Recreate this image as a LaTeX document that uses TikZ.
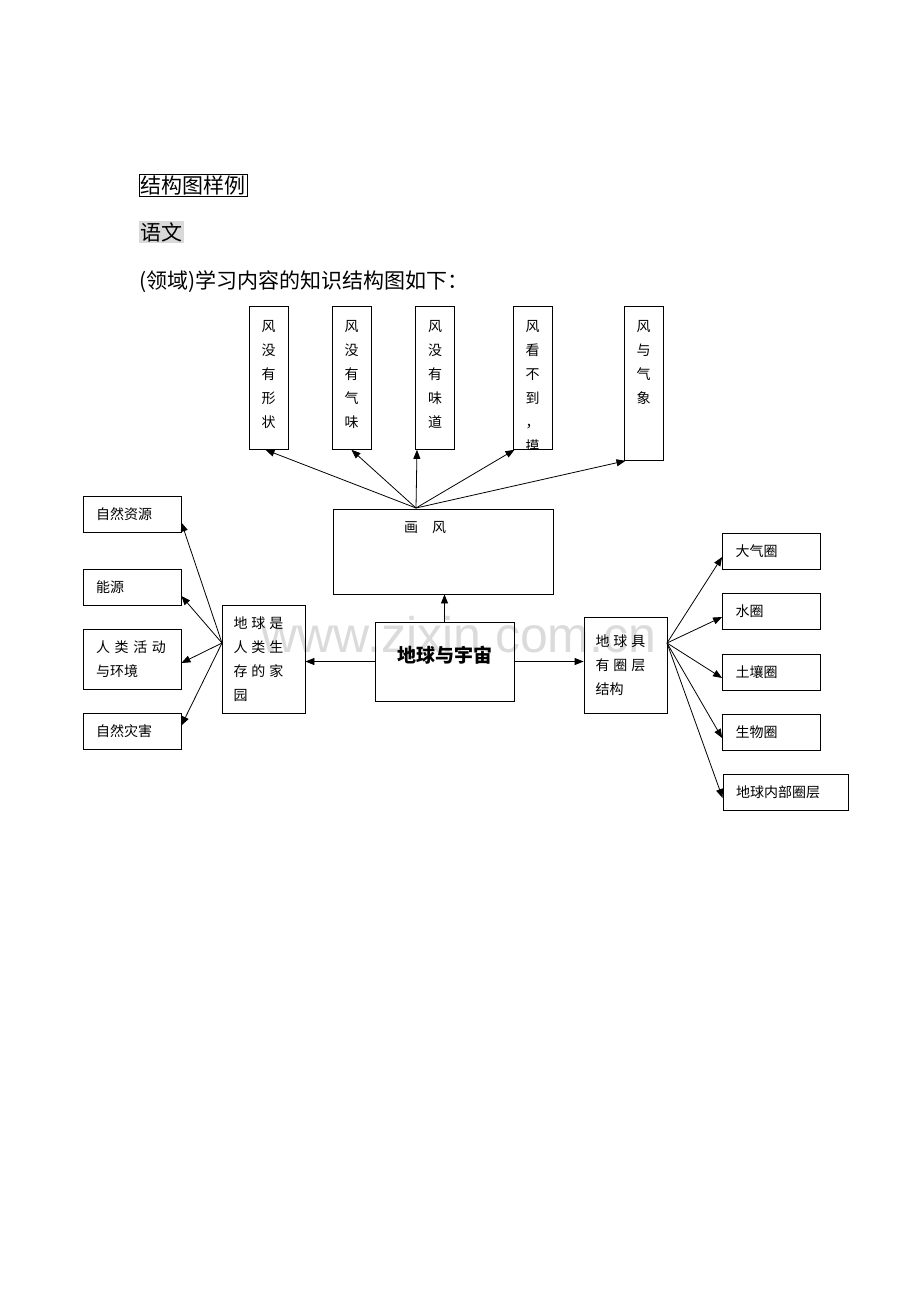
\documentclass[tikz,border=0pt]{standalone}
\usepackage{fontspec}
\setmainfont{Liberation Serif}
\setsansfont{Liberation Sans}
\newfontfamily\cjk{Noto Sans CJK SC}
\usetikzlibrary{arrows.meta,calc}
\tikzset{
    block/.style = {draw, rectangle, inner sep=0pt, font=\cjk\fontsize{14}{24}\selectfont},
    leaf/.style = {block, minimum height=36pt, minimum width=98pt, align=left, text width=72pt},
    vbox/.style = {block, minimum width=39pt, anchor=north},
    vtext/.style = {inner sep=0pt, font=\cjk\fontsize{14}{24}\selectfont, align=center, anchor=north},
    arrow/.style={draw, -{Triangle[length=9pt,width=7pt]}, line width=0.8pt}
}
\begin{document}
\begin{tikzpicture}[x=1pt,y=-1pt,line width=0.8pt]
    \useasboundingbox (0,0) rectangle (920,1302);
    % header
    \node [draw,line width=0.5pt,inner sep=1.5pt,anchor=west,font=\cjk\fontsize{21}{21}\selectfont] (title) at (139,185) {结构图样例};
    \node [fill=black!15,inner sep=1.5pt,anchor=west,font=\cjk\fontsize{21}{21}\selectfont] (subj) at (139,232) {语文};
    \node [inner sep=0pt,anchor=west,font=\cjk\fontsize{21}{21}\selectfont] (intro) at (139,282) {(领域)学习内容的知识结构图如下：};
    % watermark
    \node [text=black!14,font=\sffamily\fontsize{50}{50}\selectfont] (wm) at (459,635) {www.zixin.com.cn};
    % top boxes
    \node [vbox,minimum height=143pt] (w1) at (268.5,306) {};
    \node [vbox,minimum height=143pt] (w2) at (351.5,306) {};
    \node [vbox,minimum height=143pt] (w3) at (435,306) {};
    \node [vbox,minimum height=143pt] (w4) at (532.5,306) {};
    \node [vbox,minimum height=154pt] (w5) at (643.5,306) {};
    \node [vtext] (w1t) at ($(w1.north)+(0,14)$) {风\\没\\有\\形\\状};
    \node [vtext] (w2t) at ($(w2.north)+(0,14)$) {风\\没\\有\\气\\味};
    \node [vtext] (w3t) at ($(w3.north)+(0,14)$) {风\\没\\有\\味\\道};
    \node [vtext] (w5t) at ($(w5.north)+(0,14)$) {风\\与\\气\\象};
    \begin{scope}
        \clip ($(w4.north west)+(0.5,0.5)$) rectangle ($(w4.south east)+(-0.5,-1)$);
        \node [vtext] (w4t) at ($(w4.north)+(0,14)$) {风\\看\\不\\到\\，\\摸};
    \end{scope}
    % middle
    \node [block,minimum width=220pt,minimum height=85pt] (draw) at (443,551.5) {};
    \node [font=\cjk\fontsize{14}{14}\selectfont] (drawt) at (425,528) {画\quad 风};
    \coordinate (hub) at (416,508);
    \foreach \b/\x in {w1/-3, w2/0, w3/-18, w4/-18, w5/-18}
        \draw [arrow] (hub) -- ($(\b.south)+(\x,0)$);
    \node [block,minimum width=139pt,minimum height=79pt,font=\cjk\bfseries\fontsize{19}{19}\selectfont] (earth) at (444.5,661.5) {\raisebox{14pt}{地球与宇宙}};
    \draw [arrow] (earth.north) -- (draw.south -| earth.north);
    % left branch
    \node [block,minimum width=83pt,minimum height=108pt,align=left,text width=60pt] (home) at (263.5,659) {地\hspace{4pt}球\hspace{4pt}是\\人\hspace{4pt}类\hspace{4pt}生\\存\hspace{4pt}的\hspace{4pt}家\\园};
    \draw [arrow] (earth.west) -- (home.east |- earth.west);
    \node [leaf] (res) at (132,514.5) {自然资源};
    \node [leaf] (energy) at (132,587) {能源};
    \node [leaf,minimum height=60pt] (act) at (132,659) {人\ 类\ 活\ 动\\与环境};
    \node [leaf] (dis) at (132,731.5) {自然灾害};
    \coordinate (lhub) at (222,643);
    \foreach \b/\y in {res/8, energy/9, act/4, dis/-6}
        \draw [arrow] (lhub) -- ($(\b.east)+(0,\y)$);
    % right branch
    \node [block,minimum width=83pt,minimum height=96pt,align=left,text width=60pt] (layer) at (625.5,665) {地\hspace{4pt}球\hspace{4pt}具\\有\hspace{4pt}圈\hspace{4pt}层\\结构};
    \draw [arrow] (earth.east) -- (layer.west |- earth.east);
    \node [leaf] (air) at (771.5,551) {大气圈};
    \node [leaf] (water) at (771.5,611) {水圈};
    \node [leaf] (soil) at (771.5,672) {土壤圈};
    \node [leaf] (bio) at (771.5,732) {生物圈};
    \node [leaf,minimum width=125pt,text width=99pt] (inner) at (785.5,792) {地球内部圈层};
    \coordinate (rhub) at (667,643);
    \foreach \b in {air, water, soil, bio, inner}
        \draw [arrow] (rhub) -- ($(\b.west)+(0,6)$);
\end{tikzpicture}
\end{document}
